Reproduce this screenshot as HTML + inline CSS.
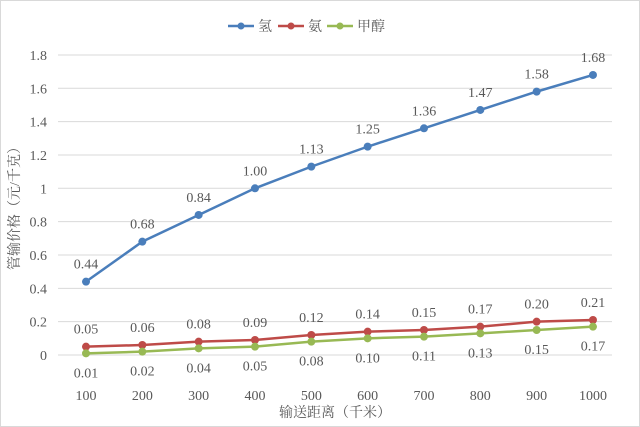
<!DOCTYPE html>
<html><head><meta charset="utf-8"><style>
html,body{margin:0;padding:0;background:#fff}
svg{display:block}
text{font-family:"Liberation Serif","Noto Serif CJK SC",serif;fill:#595959}
</style></head><body>
<svg id="c" width="640" height="427" xmlns="http://www.w3.org/2000/svg">
<rect x="0.5" y="0.5" width="639" height="426" fill="#fff" stroke="#d9d9d9"/>
</svg>
<script>
var s=document.getElementById('c'),h='';
function X(i){return 86+i*56.33}
function Y(v){return 355-v*166.7}
for(var k=0;k<=9;k++){var v=k*0.2,y=Y(v);
h+='<line x1="58" x2="612" y1="'+y+'" y2="'+y+'" stroke="#d9d9d9" stroke-width="1"/>';
h+='<text x="47" y="'+(y+5)+'" font-size="14" text-anchor="end">'+(k==0?'0':(Math.round(v*10)/10))+'</text>';}
var H=[0.44,0.68,0.84,1.00,1.13,1.25,1.36,1.47,1.58,1.68],
A=[.05,.06,.08,.09,.12,.14,.15,.17,.20,.21],
M=[.01,.02,.04,.05,.08,.10,.11,.13,.15,.17];
function ser(d,c,off){var p='';d.forEach(function(v,i){p+=(i?'L':'M')+X(i)+' '+Y(v)});
h+='<path d="'+p+'" fill="none" stroke="'+c+'" stroke-width="2.5"/>';
d.forEach(function(v,i){h+='<circle cx="'+X(i)+'" cy="'+Y(v)+'" r="4" fill="'+c+'"/>';
h+='<text x="'+X(i)+'" y="'+(Y(v)+off)+'" font-size="14" text-anchor="middle">'+v.toFixed(2)+'</text>';});}
ser(H,'#4a7ebb',-13);ser(A,'#be4b48',-13);ser(M,'#98b954',24);
for(var i=0;i<10;i++)h+='<text x="'+X(i)+'" y="400" font-size="14" text-anchor="middle">'+(i+1)*100+'</text>';
h+='<text x="335" y="417" font-size="14" text-anchor="middle">输送距离（千米）</text>';
h+='<text transform="translate(19,205) rotate(-90)" font-size="14" text-anchor="middle">管输价格（元/千克）</text>';
var L=[['氢','#4a7ebb',228],['氨','#be4b48',278],['甲醇','#98b954',327]];
L.forEach(function(l){h+='<line x1="'+l[2]+'" x2="'+(l[2]+26)+'" y1="26" y2="26" stroke="'+l[1]+'" stroke-width="2.5"/><circle cx="'+(l[2]+13)+'" cy="26" r="3.5" fill="'+l[1]+'"/><text x="'+(l[2]+30)+'" y="31" font-size="14">'+l[0]+'</text>';});
s.innerHTML+=h;
</script>
</body></html>
